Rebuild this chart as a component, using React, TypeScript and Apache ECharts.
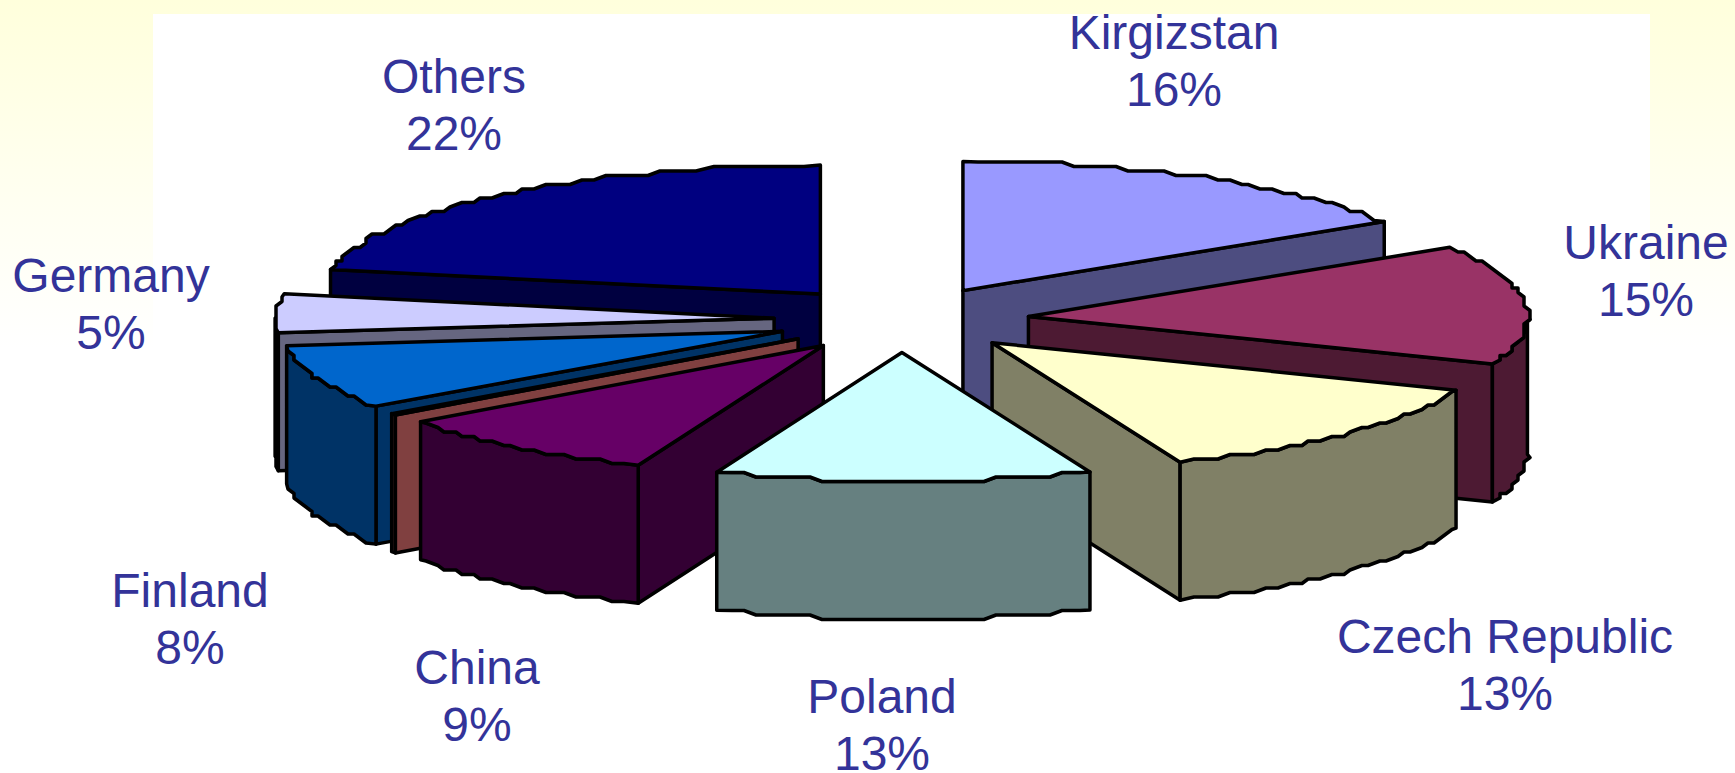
import React, { useEffect, useRef } from "react";
import * as echarts from "echarts";

// Data, in pie order (clockwise from 12 o'clock)
const categories = ["Kirgizstan", "Ukraine", "Czech Republic", "Poland", "China", "", "Finland", "Germany", "Others"];
const percentLabels = ["16%", "15%", "13%", "13%", "9%", "", "8%", "5%", "22%"];
const shares = [16, 15, 12.85, 12.2, 8.9, 0.2, 8.05, 4.85, 21.95];
const topColors = ["#9999FF", "#993366", "#FFFFCC", "#CCFFFF", "#660066", "#FF8080", "#0066CC", "#CCCCFF", "#000080"];
const sideColors = ["#4D4D80", "#4D1A33", "#808066", "#668080", "#330033", "#804040", "#003366", "#666680", "#000040"];
const paintOrder = [8, 7, 6, 5, 4, 0, 1, 2, 3];

// Layout (pixels)
const W = 1735;
const H = 773;
const CX = 901.5;
const CY = 319.5;
const RX = 499;
const RY = 129;
const EXPLODE = 127.5;
const DEPTH = 138;
const GRID_X = 6;
const GRID_Y = 4.5;
const RIM_STEP_DEG = 1.6;
const LABEL_CENTERS: number[][] = [
  [1174, 61], [1646, 271], [1505, 665], [882, 725], [477, 696], [0, 0], [190, 619], [111, 304], [454, 105],
];
const TEXT_COLOR = "#333399";
const FONT_SIZE = 48;
const LINE_HEIGHT = 57.5;

const rad = (d: number) => (d * Math.PI) / 180;
const total = shares.reduce((a, b) => a + b, 0);
const starts: number[] = [];
shares.reduce((acc, v, i) => {
  starts[i] = acc;
  return acc + (v / total) * 360;
}, 0);
const ends = shares.map((v, i) => starts[i] + (v / total) * 360);

function apexOf(i: number): number[] {
  const mid = rad((starts[i] + ends[i]) / 2);
  return [CX + EXPLODE * Math.sin(mid), CY - (EXPLODE * RY * Math.cos(mid)) / RX];
}
function rimPoint(apex: number[], deg: number): number[] {
  return [apex[0] + RX * Math.sin(rad(deg)), apex[1] - RY * Math.cos(rad(deg))];
}
// The rim is drawn as a coarse stepped polyline, the way the source picture has it
function rim(apex: number[], a: number, b: number): number[][] {
  const pts: number[][] = [rimPoint(apex, a)];
  const n = Math.max(1, Math.ceil(Math.abs(b - a) / RIM_STEP_DEG));
  for (let k = 1; k < n; k++) {
    const p = rimPoint(apex, a + ((b - a) * k) / n);
    const q = [Math.round(p[0] / GRID_X) * GRID_X, Math.round(p[1] / GRID_Y) * GRID_Y];
    const last = pts[pts.length - 1];
    if (q[0] !== last[0] || q[1] !== last[1]) pts.push(q);
  }
  pts.push(rimPoint(apex, b));
  return pts;
}
const drop = (pts: number[][]) => pts.map((p) => [p[0], p[1] + DEPTH]);

const lineStyle = (fill: string) => ({ fill, stroke: "#000", lineWidth: 3.5, lineJoin: "round" as const });

function renderSlice(_params: any, api: any) {
  const i = api.value(0) as number;
  const apex = apexOf(i);
  const s = starts[i];
  const e = ends[i];
  const side = sideColors[i];
  const children: any[] = [];
  const radialWall = (deg: number) => {
    const p = rimPoint(apex, deg);
    const top = [apex, p];
    children.push({
      type: "polygon",
      shape: { points: [...top, ...drop(top).reverse()] },
      style: lineStyle(side),
    });
  };
  if (Math.sin(rad(s)) < -1e-6) radialWall(s);
  if (Math.sin(rad(e)) > 1e-6) radialWall(e);
  const a = Math.max(s, 90);
  const b = Math.min(e, 270);
  if (b > a) {
    const arc = rim(apex, a, b);
    children.push({
      type: "polygon",
      shape: { points: [...arc, ...drop(arc).reverse()] },
      style: lineStyle(side),
    });
  }
  children.push({
    type: "polygon",
    shape: { points: [apex, ...rim(apex, s, e)] },
    style: lineStyle(topColors[i]),
  });
  return { type: "group", children };
}

function renderLabel(_params: any, api: any) {
  const i = api.value(0) as number;
  if (!categories[i]) return { type: "group", children: [] };
  const [x, y] = LABEL_CENTERS[i];
  return {
    type: "text",
    x,
    y,
    style: {
      text: `${categories[i]}\n${percentLabels[i]}`,
      align: "center",
      verticalAlign: "middle",
      fill: TEXT_COLOR,
      font: `${FONT_SIZE}px "Liberation Sans", Arial, sans-serif`,
      lineHeight: LINE_HEIGHT,
    },
  };
}

export default function App() {
  const ref = useRef<HTMLDivElement>(null);
  useEffect(() => {
    document.body.style.margin = "0";
    document.body.style.overflow = "hidden";
    const chart = echarts.init(ref.current!, undefined, { renderer: "svg" });
    chart.setOption({
      animation: false,
      backgroundColor: {
        type: "linear",
        x: 0,
        y: 0,
        x2: 0,
        y2: 1,
        colorStops: [
          { offset: 0, color: "#FFFFDC" },
          { offset: 0.27, color: "#FFFFF2" },
          { offset: 0.45, color: "#FFFFFF" },
          { offset: 1, color: "#FFFFFF" },
        ],
      },
      graphic: [
        {
          type: "rect",
          z: 0,
          silent: true,
          shape: { x: 153, y: 14, width: 1497, height: H - 14 },
          style: { fill: "#FFFFFF" },
        },
      ],
      series: [
        {
          type: "custom",
          coordinateSystem: "none",
          silent: true,
          z: 2,
          renderItem: renderSlice,
          data: paintOrder.map((i) => [i]),
        },
        {
          type: "custom",
          coordinateSystem: "none",
          silent: true,
          z: 3,
          renderItem: renderLabel,
          data: paintOrder.map((i) => [i]),
        },
      ],
    });
    return () => chart.dispose();
  }, []);
  return <div ref={ref} style={{ width: W, height: H }} />;
}
